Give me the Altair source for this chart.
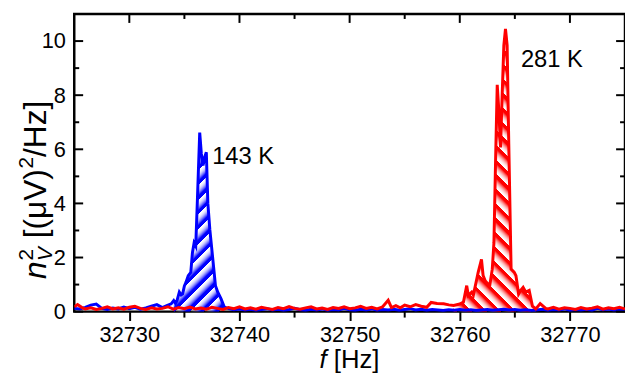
import math
import altair as alt
import pandas as pd

# ---------------- data ----------------
blue_pts = [
    (32725.0, 0.12), (32725.5, 0.10), (32726.0, 0.16), (32726.5, 0.24), (32727.0, 0.28),
    (32727.5, 0.12), (32728.0, 0.08), (32728.5, 0.13), (32729.0, 0.10), (32729.5, 0.17),
    (32730.0, 0.11), (32730.5, 0.16), (32731.0, 0.09), (32731.5, 0.14), (32732.0, 0.20),
    (32732.5, 0.26), (32733.0, 0.15), (32733.4, 0.22), (32733.8, 0.29), (32734.03, 0.41),
    (32734.2, 0.30), (32734.33, 0.41), (32734.54, 0.72), (32734.7, 0.62), (32734.84, 0.66),
    (32735.0, 0.95), (32735.14, 1.08), (32735.35, 1.33), (32735.58, 1.45), (32735.73, 2.18),
    (32735.88, 2.54), (32736.03, 2.42), (32736.18, 4.12), (32736.39, 6.62), (32736.54, 5.83),
    (32736.69, 5.40), (32736.84, 5.71), (32736.99, 5.89), (32737.13, 4.00), (32737.31, 3.03),
    (32737.52, 2.18), (32737.82, 0.96), (32738.03, 0.72), (32738.33, 0.47), (32738.62, 0.17),
    (32739.0, 0.11), (32739.5, 0.07), (32740.0, 0.10), (32740.5, 0.06), (32741.0, 0.09),
    (32741.5, 0.05), (32742.0, 0.08), (32742.5, 0.11), (32743.0, 0.06), (32743.5, 0.09),
    (32744.0, 0.05), (32744.5, 0.08), (32745.0, 0.12), (32745.5, 0.07), (32746.0, 0.05),
    (32746.5, 0.09), (32747.0, 0.06), (32747.5, 0.10), (32748.0, 0.05), (32748.5, 0.08),
    (32749.0, 0.06), (32749.5, 0.11), (32750.0, 0.07), (32750.5, 0.05), (32751.0, 0.09),
    (32751.5, 0.06), (32752.0, 0.10), (32752.5, 0.05), (32753.0, 0.08), (32753.5, 0.06),
    (32754.0, 0.09), (32754.5, 0.05), (32755.0, 0.08), (32755.5, 0.11), (32756.0, 0.06),
    (32756.5, 0.09), (32757.0, 0.05), (32757.5, 0.08), (32758.0, 0.06), (32758.5, 0.04),
    (32759.0, 0.07), (32759.5, 0.05), (32760.0, 0.08), (32760.5, 0.05), (32761.0, 0.07),
    (32761.5, 0.04), (32762.0, 0.06), (32762.5, 0.08), (32763.0, 0.05), (32763.5, 0.07),
    (32764.0, 0.09), (32764.5, 0.06), (32765.0, 0.08), (32765.5, 0.05), (32766.0, 0.07),
    (32766.5, 0.04), (32767.0, 0.06), (32767.5, 0.09), (32768.0, 0.05), (32768.5, 0.08),
    (32769.0, 0.06), (32769.5, 0.10), (32770.0, 0.05), (32770.5, 0.08), (32771.0, 0.06),
    (32771.5, 0.09), (32772.0, 0.05), (32772.5, 0.12), (32773.0, 0.07), (32773.5, 0.10),
    (32774.0, 0.06), (32774.5, 0.09), (32775.0, 0.07),
]

red_pts = [
    (32725.0, 0.18), (32725.3, 0.26), (32725.7, 0.15), (32726.0, 0.10), (32726.5, 0.14),
    (32727.0, 0.08), (32727.5, 0.12), (32728.0, 0.18), (32728.5, 0.10), (32729.0, 0.14),
    (32729.5, 0.09), (32730.0, 0.16), (32730.5, 0.20), (32731.0, 0.12), (32731.5, 0.08),
    (32732.0, 0.14), (32732.5, 0.10), (32733.0, 0.12), (32733.5, 0.18), (32734.0, 0.09),
    (32734.5, 0.15), (32735.0, 0.11), (32735.5, 0.17), (32736.0, 0.10), (32736.5, 0.13),
    (32737.0, 0.09), (32737.5, 0.16), (32738.0, 0.12), (32738.5, 0.08), (32739.0, 0.15),
    (32739.5, 0.11), (32740.0, 0.18), (32740.5, 0.10), (32741.0, 0.14), (32741.5, 0.09),
    (32742.0, 0.16), (32742.5, 0.12), (32743.0, 0.08), (32743.5, 0.15), (32744.0, 0.11),
    (32744.5, 0.19), (32745.0, 0.12), (32745.5, 0.09), (32746.0, 0.14), (32746.5, 0.18),
    (32747.0, 0.10), (32747.5, 0.13), (32748.0, 0.08), (32748.5, 0.15), (32749.0, 0.12),
    (32749.5, 0.18), (32750.0, 0.11), (32750.5, 0.14), (32751.0, 0.20), (32751.5, 0.12),
    (32752.0, 0.16), (32752.5, 0.10), (32753.0, 0.18), (32753.5, 0.42), (32753.8, 0.15),
    (32754.2, 0.22), (32754.6, 0.14), (32755.0, 0.24), (32755.5, 0.18), (32756.0, 0.26),
    (32756.5, 0.20), (32757.0, 0.16), (32757.4, 0.34), (32757.94, 0.30), (32758.54, 0.29),
    (32759.0, 0.25), (32759.44, 0.23), (32760.0, 0.28), (32760.33, 0.35), (32760.63, 0.96),
    (32760.78, 0.60), (32761.08, 0.72), (32761.23, 0.60), (32761.67, 1.45), (32761.97, 1.93),
    (32762.12, 1.33), (32762.3, 1.15), (32762.42, 1.08), (32762.72, 0.96), (32762.95, 1.57),
    (32763.10, 2.54), (32763.25, 5.58), (32763.40, 8.38), (32763.55, 7.41), (32763.70, 6.07),
    (32763.85, 8.02), (32764.00, 9.84), (32764.15, 10.45), (32764.30, 9.84), (32764.45, 6.19),
    (32764.66, 1.57), (32764.95, 1.45), (32765.10, 1.33), (32765.34, 0.65), (32765.55, 0.80),
    (32765.75, 0.90), (32766.0, 0.72), (32766.3, 0.78), (32766.6, 0.20), (32766.9, 0.10),
    (32767.3, 0.30), (32767.8, 0.12), (32768.0, 0.10), (32768.5, 0.16), (32769.0, 0.09),
    (32769.5, 0.14), (32770.0, 0.12), (32770.5, 0.08), (32771.0, 0.15), (32771.5, 0.10),
    (32772.0, 0.13), (32772.5, 0.18), (32773.0, 0.09), (32773.5, 0.14), (32774.0, 0.11),
    (32774.5, 0.16), (32775.0, 0.10),
]

blue_hatch_range = [32733.9, 32738.7]
red_hatch_range = [32759.3, 32767.0]

x_major = [32730, 32740, 32750, 32760, 32770]
x_minor = [32735, 32745, 32755, 32765]
y_major = [0, 2, 4, 6, 8, 10]
y_minor = [1, 3, 5, 7, 9]

peak_labels = ["143 K", "281 K"]
peak_label_f = [32737.52, 32765.55]
peak_label_v = [5.47, 9.05]

x_title = ["f", "[Hz]"]
y_title = ["n", "V", "2", "[(\u03bcV)", "2", "/Hz]"]

# ---------------- layout / style ----------------
X_DOMAIN = [32725, 32775]
Y_DOMAIN = [0, 11]
W, H = 557, 301
FONT = "Liberation Sans"
BLUE = "#0000ff"
RED = "#ff0000"

blue = pd.DataFrame(blue_pts, columns=["f", "v"])
red = pd.DataFrame(red_pts, columns=["f", "v"])
blue_h = blue[(blue.f >= blue_hatch_range[0]) & (blue.f <= blue_hatch_range[1])]
red_h = red[(red.f >= red_hatch_range[0]) & (red.f <= red_hatch_range[1])]

xs = alt.Scale(domain=X_DOMAIN, nice=False, zero=False)
ys = alt.Scale(domain=Y_DOMAIN, nice=False, zero=False)

xa = alt.Axis(values=x_major, format="d", title=None, grid=False, domain=False,
              ticks=True, tickSize=9, tickWidth=2, tickColor="black",
              labelFont=FONT, labelFontSize=22, labelColor="black", labelPadding=4,
              labelFlush=False)
ya = alt.Axis(values=y_major, format="d", title=None, grid=False, domain=False,
              ticks=False, tickSize=0,
              labelFont=FONT, labelFontSize=22, labelColor="black", labelPadding=9,
              labelFlush=False)


def hatch(color, df, direction, period=10.5, thick=2.8):
    w = (df.f.max() - df.f.min()) * W / (X_DOMAIN[1] - X_DOMAIN[0])
    h = df.v.max() * H / (Y_DOMAIN[1] - Y_DOMAIN[0])
    r = w / h
    s = (r + 1) / (r * r + 1)
    L = (w + h) / math.sqrt(2)
    clear = "rgba(255,255,255,0)"
    stops = []
    k = 0
    while k * period / L < 1:
        o = k * period / L
        e = min((k * period + thick) / L, 1.0)
        stops += [alt.GradientStop(offset=o, color=color),
                  alt.GradientStop(offset=e, color=color),
                  alt.GradientStop(offset=e, color=clear)]
        k += 1
    stops.append(alt.GradientStop(offset=1.0, color=clear))
    if direction == "/":
        return alt.LinearGradient(gradient="linear", stops=stops, x1=0, y1=0, x2=r * s, y2=s)
    return alt.LinearGradient(gradient="linear", stops=stops, x1=0, y1=1, x2=r * s, y2=1 - s)


def area_layer(df, color, direction):
    return alt.Chart(df).mark_area(fill=hatch(color, df, direction), opacity=1, clip=True).encode(
        x=alt.X("f:Q", scale=xs, axis=xa),
        y=alt.Y("v:Q", scale=ys, axis=ya),
    )


def line_layer(df, color):
    return alt.Chart(df).mark_line(color=color, strokeWidth=3, clip=True).encode(
        x=alt.X("f:Q", scale=xs, axis=xa),
        y=alt.Y("v:Q", scale=ys, axis=ya),
    )


labels_df = pd.DataFrame({"t": peak_labels, "f": peak_label_f, "v": peak_label_v})
peak_text = alt.Chart(labels_df).mark_text(
    font=FONT, fontSize=24, color="black", align="left", baseline="alphabetic"
).encode(
    x=alt.X("f:Q", scale=xs, axis=xa),
    y=alt.Y("v:Q", scale=ys, axis=ya),
    text="t:N",
)


def xticks(vals, y0, y1):
    return alt.Chart(pd.DataFrame({"f": vals})).mark_rule(color="black", strokeWidth=2).encode(
        x=alt.X("f:Q", scale=xs, axis=xa), y=alt.value(y0), y2=alt.value(y1))


def yticks(vals, x0, x1):
    return alt.Chart(pd.DataFrame({"v": vals})).mark_rule(color="black", strokeWidth=2).encode(
        y=alt.Y("v:Q", scale=ys, axis=ya), x=alt.value(x0), x2=alt.value(x1))


tick_layers = [
    xticks(x_minor, H, H + 6),      # bottom minor, outward
    xticks(x_major, 0, 9),          # top major, inward
    xticks(x_minor, 0, 5),          # top minor, inward
    yticks(y_major, 0, 9),          # left major, inward
    yticks(y_minor, 0, 5),          # left minor, inward
    yticks(y_major, W, W - 9),      # right major, inward
    yticks(y_minor, W, W - 5),      # right minor, inward
]


def seg(text, x, y, angle, dx, dy, size, style):
    return alt.Chart(pd.DataFrame({"s": [text]})).mark_text(
        font=FONT, fontSize=size, fontStyle=style, color="black",
        align="left", baseline="alphabetic", angle=angle, dx=dx, dy=dy,
    ).encode(x=alt.value(x), y=alt.value(y), text="s:N")


# x title: italic f + [Hz]
XT_X, XT_Y = W / 2, 358
xt_layers = [
    seg(x_title[0], XT_X, XT_Y, 0, -30.5, 0, 26, "italic"),
    seg(x_title[1], XT_X, XT_Y, 0, -16.0, 0, 26, "normal"),
]

# y title: rotated, reading bottom to top
YT_X, YT_Y = -29, 268
yt_layers = [
    seg(y_title[0], YT_X, YT_Y, 270, 0, 0, 32, "italic"),
    seg(y_title[1], YT_X, YT_Y, 270, 18.3, 7, 21, "italic"),
    seg(y_title[2], YT_X, YT_Y, 270, 18.8, -13, 21, "normal"),
    seg(y_title[3], YT_X, YT_Y, 270, 41.2, 0, 32, "normal"),
    seg(y_title[4], YT_X, YT_Y, 270, 111.7, -13, 21, "normal"),
    seg(y_title[5], YT_X, YT_Y, 270, 123.4, 0, 32, "normal"),
]

chart = alt.layer(
    area_layer(red_h, RED, "\\"),
    area_layer(blue_h, BLUE, "/"),
    line_layer(blue, BLUE),
    line_layer(red, RED),
    peak_text,
    *tick_layers,
    *xt_layers,
    *yt_layers,
).properties(
    width=W, height=H,
    padding={"left": 67, "top": 4, "right": 0, "bottom": 62},
    autosize=alt.AutoSizeParams(type="none"),
    background="white",
).configure_view(
    stroke="black", strokeWidth=2.5
)

chart.save("out.html", embed_options={"renderer": "svg", "actions": False})
